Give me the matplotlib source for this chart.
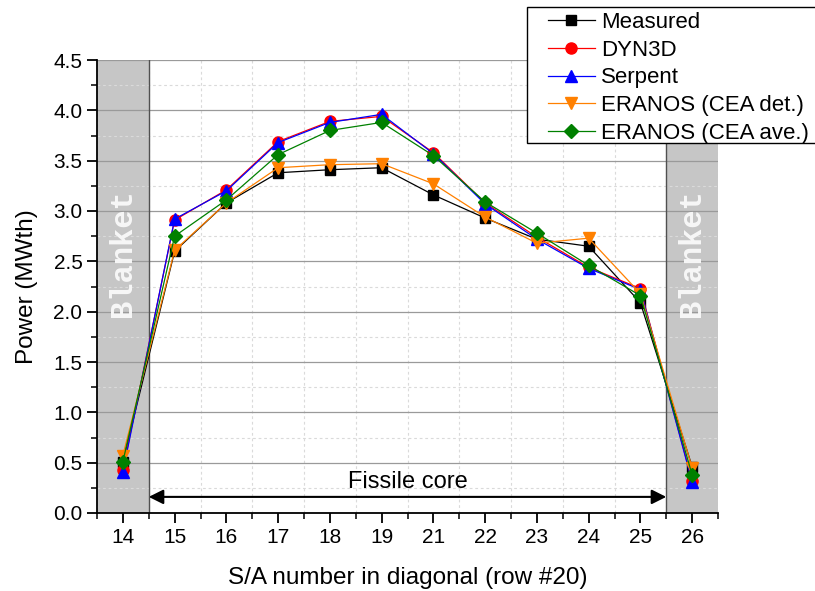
import matplotlib
matplotlib.use("Agg")
import matplotlib.pyplot as plt
from matplotlib.patches import Rectangle
import numpy as np

plt.rcParams['font.family'] = ['Liberation Sans', 'DejaVu Sans']

categories = ['14', '15', '16', '17', '18', '19', '21', '22', '23', '24', '25', '26']
measured   = [0.51, 2.60, 3.08, 3.38, 3.41, 3.43, 3.16, 2.93, 2.72, 2.65, 2.09, 0.46]
dyn3d      = [0.43, 2.91, 3.21, 3.69, 3.89, 3.94, 3.58, 3.08, 2.74, 2.44, 2.23, 0.32]
serpent    = [0.41, 2.92, 3.20, 3.68, 3.88, 3.96, 3.57, 3.07, 2.72, 2.43, 2.22, 0.31]
eranos_det = [0.57, 2.61, 3.08, 3.43, 3.46, 3.47, 3.27, 2.94, 2.68, 2.73, 2.18, 0.45]
eranos_ave = [0.51, 2.75, 3.11, 3.56, 3.80, 3.88, 3.55, 3.09, 2.78, 2.46, 2.16, 0.38]
series_labels = ['Measured', 'DYN3D', 'Serpent', 'ERANOS (CEA det.)', 'ERANOS (CEA ave.)']

fig = plt.figure(figsize=(8.15, 5.91), dpi=100)
ax = fig.add_axes([97/815, 1-513/591, (718-97)/815, (513-60)/591])

x = np.arange(len(categories))

# blanket bands
ax.axvspan(-0.5, 0.5, color='#c6c6c6', zorder=0.1, lw=0)
ax.axvspan(len(categories)-1.5, len(categories)-0.5, color='#c6c6c6', zorder=0.1, lw=0)
ax.axvline(0.5, color='#505050', lw=1.0, zorder=1)
ax.axvline(len(categories)-1.5, color='#505050', lw=1.0, zorder=1)

styles = [('black', 's', 7.5), ('red', 'o', 8), ('blue', '^', 8.5), ('#ff8000', 'v', 8.5), ('green', 'D', 7)]
data = [measured, dyn3d, serpent, eranos_det, eranos_ave]
handles = []
for d, lab, (c, m, ms) in zip(data, series_labels, styles):
    h, = ax.plot(x, d, color=c, marker=m, markersize=ms, lw=0.9, label=lab, zorder=3)
    handles.append(h)

ax.set_xlim(-0.5, len(categories)-0.5)
ax.set_ylim(0, 4.5)
ax.set_xticks(x)
ax.set_xticklabels(categories)
ax.set_xticks(np.arange(-0.5, len(categories), 1.0), minor=True)
ax.set_yticks(np.arange(0, 4.51, 0.5))
ax.set_yticklabels([f'{v:.1f}' for v in np.arange(0, 4.51, 0.5)])
ax.set_yticks(np.arange(0, 4.51, 0.25), minor=True)

ax.set_axisbelow(True)
ax.grid(axis='y', which='major', ls='-', color='#9a9a9a', lw=0.9)
ax.grid(axis='y', which='minor', ls=(0, (2.5, 2.5)), color='#dadada', lw=0.8)
ax.grid(axis='x', which='minor', ls=(0, (2.5, 2.5)), color='#dadada', lw=0.8)

for s in ['top', 'right']:
    ax.spines[s].set_visible(False)
for s in ['left', 'bottom']:
    ax.spines[s].set_linewidth(1.3)
ax.tick_params(which='major', length=7, width=1.3, labelsize=15, pad=3.5)
ax.tick_params(which='minor', length=4, width=1.1)

ax.set_xlabel('S/A number in diagonal (row #20)', fontsize=17.5, labelpad=15)
ax.set_ylabel('Power (MWth)', fontsize=17.5, labelpad=11)

for xb in [0, len(categories)-1]:
    ax.text(xb, 2.58, 'Blanket', rotation=90, ha='center', va='center',
            family='Liberation Mono', weight='bold', fontsize=22, color='#f7f7f7', zorder=2)

ax.annotate('', xy=(0.5, 0.16), xytext=(len(categories)-1.5, 0.16),
            arrowprops=dict(arrowstyle='<|-|>', color='black', lw=1.5,
                            mutation_scale=22, shrinkA=0, shrinkB=0), zorder=4)
ax.text((len(categories)-1)/2, 0.31, 'Fissile core', ha='center', va='center', fontsize=17)

rect = Rectangle((527/815, 1-143/591), (830-527)/815, 136/591, transform=fig.transFigure,
                 facecolor='white', edgecolor='black', lw=1.0, zorder=2, clip_on=False)
fig.patches.append(rect)
fig.legend(handles=handles, loc='upper left', bbox_to_anchor=(548/815, 1-12/591),
           frameon=False, fontsize=16, borderpad=0, handlelength=2.1,
           handletextpad=0.3, labelspacing=0.3, borderaxespad=0)

fig.savefig('out.png', dpi=100)
